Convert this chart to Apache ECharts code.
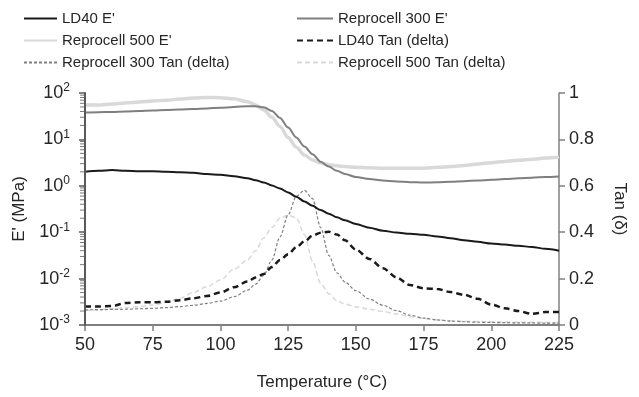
<!DOCTYPE html>
<html>
<head>
<meta charset="utf-8">
<script src="https://cdn.jsdelivr.net/npm/echarts@6/dist/echarts.min.js"></script>
<style>html,body{margin:0;padding:0;background:#fff}#c{width:639px;height:397px}</style>
</head>
<body>
<div id="c"></div>
<script>
const temps   = [50,55,60,65,70,75,80,85,90,95,100,105,110,113,116,119,122,125,128,131,134,137,140,143,146,150,155,160,165,170,175,180,185,190,195,200,205,210,215,220,225];
const ld40E   = [2.0,2.1,2.2,2.1,2.05,2.05,2.0,1.95,1.9,1.8,1.72,1.6,1.45,1.32,1.18,1.02,0.87,0.72,0.58,0.46,0.37,0.3,0.25,0.21,0.18,0.15,0.125,0.108,0.098,0.093,0.088,0.081,0.074,0.067,0.062,0.057,0.054,0.051,0.048,0.044,0.040];
const rep300E = [38,38.5,39,40,41,42,43,44,45,46.5,48,50,52,52,49,41,29,18,11,7,4.8,3.3,2.6,2.1,1.8,1.55,1.4,1.3,1.24,1.2,1.18,1.19,1.22,1.26,1.3,1.35,1.4,1.45,1.5,1.54,1.58];
const rep500E = [55,55,58,61,64,67,70,74,78,80,79,75,65,55,43,30,19,11,6.8,4.6,3.6,3.1,2.85,2.7,2.6,2.5,2.45,2.4,2.38,2.38,2.4,2.5,2.6,2.75,2.95,3.15,3.35,3.55,3.75,3.95,4.1];
const ld40Tan = [0.08,0.08,0.082,0.095,0.098,0.098,0.1,0.107,0.115,0.125,0.14,0.163,0.187,0.205,0.22,0.25,0.28,0.305,0.335,0.36,0.385,0.398,0.402,0.39,0.365,0.325,0.285,0.245,0.205,0.172,0.158,0.155,0.142,0.13,0.113,0.088,0.072,0.06,0.048,0.056,0.056];
const rep300Tan = [0.065,0.066,0.067,0.068,0.07,0.072,0.075,0.079,0.085,0.093,0.103,0.122,0.15,0.176,0.215,0.28,0.38,0.475,0.555,0.58,0.545,0.42,0.3,0.225,0.185,0.148,0.112,0.085,0.062,0.042,0.03,0.022,0.017,0.014,0.012,0.011,0.01,0.009,0.009,0.008,0.008];
const rep500Tan = [0.062,0.065,0.07,0.075,0.08,0.086,0.098,0.115,0.14,0.165,0.194,0.24,0.28,0.32,0.375,0.42,0.46,0.473,0.462,0.39,0.275,0.18,0.135,0.105,0.09,0.078,0.068,0.058,0.047,0.036,0.028,0.022,0.018,0.016,0.015,0.014,0.013,0.012,0.012,0.011,0.011];
const xTicks = [50,75,100,125,150,175,200,225];
const tanTicks = [0,0.2,0.4,0.6,0.8,1];
const names = ["LD40 E'","Reprocell 300 E'","Reprocell 500 E'","LD40 Tan (delta)","Reprocell 300 Tan (delta)","Reprocell 500 Tan (delta)"];

// minor log ticks 2..9 x 10^k
const minorVals = [];
for (let k = -3; k <= 1; k++) for (let m = 2; m <= 9; m++) minorVals.push(+(m * Math.pow(10, k)).toPrecision(3));

const pair = arr => temps.map((t, i) => [t, arr[i]]);
const FONT = 'Liberation Sans, Arial, sans-serif';
const TXT = '#262626';

const chart = echarts.init(document.getElementById('c'), null, {renderer: 'canvas'});
chart.setOption({
  animation: false,
  textStyle: {fontFamily: FONT, color: TXT},
  grid: {left: 85, right: 80, top: 93, bottom: 72},
  legend: [
    {data: [names[0], names[2], names[4]], orient: 'vertical', left: 18, top: 6, itemWidth: 33, itemHeight: 14, itemGap: 7,
     itemStyle: {opacity: 0}, textStyle: {fontSize: 15, color: TXT, fontFamily: FONT}},
    {data: [names[1], names[3], names[5]], orient: 'vertical', left: 291, top: 6, itemWidth: 36, itemHeight: 14, itemGap: 7,
     itemStyle: {opacity: 0}, textStyle: {fontSize: 15, color: TXT, fontFamily: FONT}}
  ],
  xAxis: {
    type: 'value', min: 50, max: 225, interval: 25,
    name: 'Temperature (°C)', nameLocation: 'middle', nameGap: 49,
    nameTextStyle: {fontSize: 17, color: TXT, fontFamily: FONT},
    axisLine: {onZero: false, lineStyle: {color: '#808080', width: 2}},
    axisTick: {show: true, length: 6, lineStyle: {color: '#808080', width: 1.5}},
    axisLabel: {fontSize: 18, color: TXT, margin: 11, fontFamily: FONT},
    splitLine: {show: false}
  },
  yAxis: [
    {
      type: 'log', logBase: 10, min: 0.001, max: 100, position: 'left',
      name: "E' (MPa)", nameLocation: 'middle', nameGap: 57, nameRotate: 90,
      nameTextStyle: {fontSize: 17, color: TXT, fontFamily: FONT},
      axisLine: {show: true, onZero: false, lineStyle: {color: '#595959', width: 2}},
      axisTick: {show: true, length: 6, lineStyle: {color: '#595959', width: 1.5}},
      axisLabel: {
        margin: 15, color: TXT, fontFamily: FONT,
        formatter: v => '{b|10}{s|' + Math.round(Math.log10(v)) + '}',
        rich: {
          b: {fontSize: 18, color: TXT, fontFamily: FONT, lineHeight: 22},
          s: {fontSize: 12, color: TXT, fontFamily: FONT, verticalAlign: 'top', lineHeight: 22, padding: [0, 0, 8, 0]}
        }
      },
      splitLine: {show: false},
      z: 10
    },
    {
      type: 'value', min: 0, max: 1, interval: 0.2, position: 'right',
      name: 'Tan (δ)', nameLocation: 'middle', nameGap: 52, nameRotate: -90,
      nameTextStyle: {fontSize: 17, color: TXT, fontFamily: FONT},
      axisLine: {show: true, onZero: false, lineStyle: {color: '#808080', width: 1.5}},
      axisTick: {show: true, length: 6, lineStyle: {color: '#808080', width: 1.5}},
      axisLabel: {fontSize: 18, color: TXT, margin: 10, fontFamily: FONT, formatter: v => String(+v.toFixed(1))},
      splitLine: {show: false}
    }
  ],
  series: [
    {name: 'minorTicks', type: 'scatter', yAxisIndex: 0, data: minorVals.map(v => [50, v]),
     symbol: 'rect', symbolSize: [4, 1], symbolOffset: [-3, 0], clip: false, silent: true,
     itemStyle: {color: '#595959'}, z: 10},
    {name: names[0], type: 'line', yAxisIndex: 0, data: pair(ld40E), symbol: 'none', smooth: 0.3, smoothMonotone: 'x',
     lineStyle: {color: '#1a1a1a', width: 2}, itemStyle: {color: '#1a1a1a'}, z: 6},
    {name: names[1], type: 'line', yAxisIndex: 0, data: pair(rep300E), symbol: 'none', smooth: 0.3, smoothMonotone: 'x',
     lineStyle: {color: '#7f7f7f', width: 2}, itemStyle: {color: '#7f7f7f'}, z: 5},
    {name: names[2], type: 'line', yAxisIndex: 0, data: pair(rep500E), symbol: 'none', smooth: 0.3, smoothMonotone: 'x',
     lineStyle: {color: '#d9d9d9', width: 3.5}, itemStyle: {color: '#d9d9d9'}, z: 4},
    {name: names[3], type: 'line', yAxisIndex: 1, data: pair(ld40Tan), symbol: 'none', smooth: 0.3, smoothMonotone: 'x',
     lineStyle: {color: '#1a1a1a', width: 2.5, type: [6, 4]}, itemStyle: {color: '#1a1a1a'}, z: 6},
    {name: names[4], type: 'line', yAxisIndex: 1, data: pair(rep300Tan), symbol: 'none', smooth: 0.3, smoothMonotone: 'x',
     lineStyle: {color: '#7f7f7f', width: 1.2, type: [3, 2]}, itemStyle: {color: '#7f7f7f'}, z: 5},
    {name: names[5], type: 'line', yAxisIndex: 1, data: pair(rep500Tan), symbol: 'none', smooth: 0.3, smoothMonotone: 'x',
     lineStyle: {color: '#d9d9d9', width: 1.5, type: [5, 3]}, itemStyle: {color: '#d9d9d9'}, z: 4}
  ]
});
</script>
</body>
</html>
